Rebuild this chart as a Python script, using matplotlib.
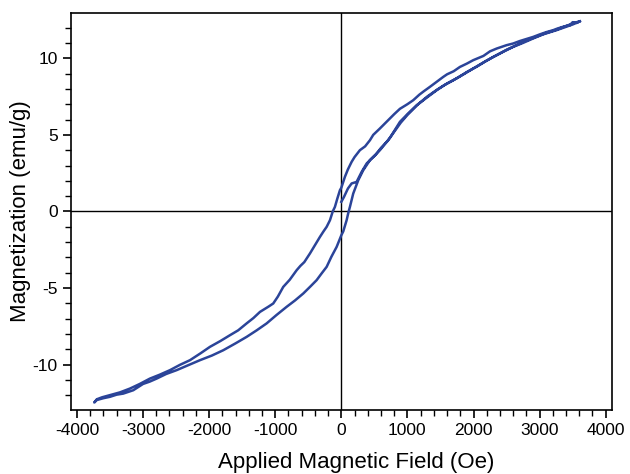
import numpy as np
import matplotlib
matplotlib.use('Agg')
import matplotlib.pyplot as plt
from matplotlib.ticker import MultipleLocator

plt.rcParams['font.family'] = ['Liberation Sans', 'DejaVu Sans']
plt.rcParams['axes.unicode_minus'] = False

# curva inicial (desde el origen hasta el campo maximo)
h_ini = [0, 40, 100, 156, 231, 307, 383, 433, 520, 600, 700, 800, 900, 1000,
         1150, 1300, 1450, 1600, 1750, 1900, 2050, 2200, 2350, 2500, 2650,
         2800, 2950, 3100, 3250, 3400, 3520, 3610]
m_ini = [0.63, 0.95, 1.5, 1.83, 1.93, 2.58, 3.13, 3.35, 3.7, 4.15, 4.6, 5.2,
         5.8, 6.3, 6.95, 7.5, 7.95, 8.35, 8.7, 9.1, 9.45, 9.85, 10.2, 10.55,
         10.85, 11.15, 11.4, 11.65, 11.85, 12.1, 12.3, 12.41]

# rama descendente (campo maximo -> minimo)
h_baja = [3610, 3560, 3500, 3458, 3400, 3330, 3260, 3206, 3100, 3000, 2903,
          2800, 2700, 2600, 2500, 2350, 2250, 2150, 1995, 1900, 1794, 1700,
          1600, 1542, 1440, 1340, 1250, 1180, 1088, 1000, 887, 800, 685, 580,
          483, 433, 360, 281, 200, 156, 100, 54, 0, -21, -60, -97, -130, -172,
          -222, -270, -324, -400, -475, -560, -620, -676, -780, -879, -960,
          -1030, -1100, -1231, -1330, -1433, -1560, -1685, -1830, -1988, -2130,
          -2290, -2440, -2593, -2750, -2896, -3050, -3198, -3350, -3501, -3620,
          -3700, -3738]
m_baja = [12.41, 12.30, 12.35, 12.15, 12.10, 12.02, 11.92, 11.83, 11.70, 11.55,
          11.39, 11.25, 11.12, 10.96, 10.85, 10.63, 10.45, 10.15, 9.87, 9.65,
          9.43, 9.15, 8.95, 8.78, 8.45, 8.13, 7.85, 7.62, 7.26, 7.00, 6.70,
          6.35, 5.85, 5.40, 5.00, 4.65, 4.25, 4.00, 3.55, 3.24, 2.75, 2.26,
          1.55, 1.39, 0.85, 0.30, 0.0, -0.57, -1.0, -1.3, -1.66, -2.2, -2.74,
          -3.3, -3.55, -3.83, -4.45, -4.92, -5.55, -6.0, -6.2, -6.55, -6.95,
          -7.3, -7.75, -8.07, -8.45, -8.83, -9.25, -9.7, -10.0, -10.35, -10.65,
          -10.9, -11.25, -11.55, -11.8, -11.98, -12.12, -12.25, -12.46]

# rama ascendente (campo minimo -> maximo)
h_sube = [-3738, -3700, -3600, -3501, -3400, -3300, -3148, -3000, -2900, -2794,
          -2650, -2492, -2300, -2139, -1960, -1786, -1600, -1433, -1280, -1130,
          -980, -828, -700, -576, -470, -374, -300, -222, -150, -71, 0, 29, 80,
          105, 130, 180, 256, 331, 433, 584, 685, 735, 887, 1000, 1139, 1300,
          1442, 1560, 1693, 1850, 1995, 2150, 2298, 2450, 2600, 2750, 2903,
          3050, 3257, 3400, 3500, 3610]
m_sube = [-12.46, -12.3, -12.18, -12.09, -11.95, -11.88, -11.66, -11.25, -11.1,
          -10.9, -10.6, -10.35, -10.0, -9.7, -9.4, -9.05, -8.6, -8.18, -7.75,
          -7.3, -6.75, -6.22, -5.8, -5.35, -4.9, -4.48, -4.05, -3.61, -2.95,
          -2.31, -1.55, -1.3, -0.57, -0.1, 0.3, 1.17, 2.04, 2.69, 3.35, 4.0,
          4.54, 4.8, 5.85, 6.35, 6.93, 7.45, 7.91, 8.25, 8.56, 8.95, 9.33,
          9.72, 10.08, 10.42, 10.74, 11.0, 11.29, 11.55, 11.83, 12.05, 12.2,
          12.41]

color = '#2b4499'

fig = plt.figure(figsize=(6.3, 4.74), dpi=100)
ax = fig.add_axes([0.1127, 0.135, 0.8587, 0.8376])

ax.axhline(0, color='black', lw=1.0, zorder=1)
ax.axvline(0, color='black', lw=1.0, zorder=1)

h_all = h_ini + h_baja + h_sube
m_all = m_ini + m_baja + m_sube
ax.plot(h_all, m_all, color=color, lw=1.8, zorder=2)

ax.set_xlim(-4090, 4095)
ax.set_ylim(-12.95, 12.95)
ax.xaxis.set_major_locator(MultipleLocator(1000))
ax.xaxis.set_minor_locator(MultipleLocator(200))
ax.yaxis.set_major_locator(MultipleLocator(5))
ax.yaxis.set_minor_locator(MultipleLocator(1))
ax.tick_params(which='major', length=6, width=1.2, labelsize=12.5, direction='out')
ax.tick_params(which='minor', length=4, width=1.0, direction='out')
ax.tick_params(top=False, right=False)
for s in ax.spines.values():
    s.set_linewidth(1.2)

ax.set_xlabel('Applied Magnetic Field (Oe)', fontsize=16, labelpad=10)
ax.xaxis.label.set_x(0.528)  # en el original la etiqueta esta algo corrida a la derecha
ax.set_ylabel('Magnetization (emu/g)', fontsize=16, labelpad=1)

fig.savefig('out.png', dpi=100)
